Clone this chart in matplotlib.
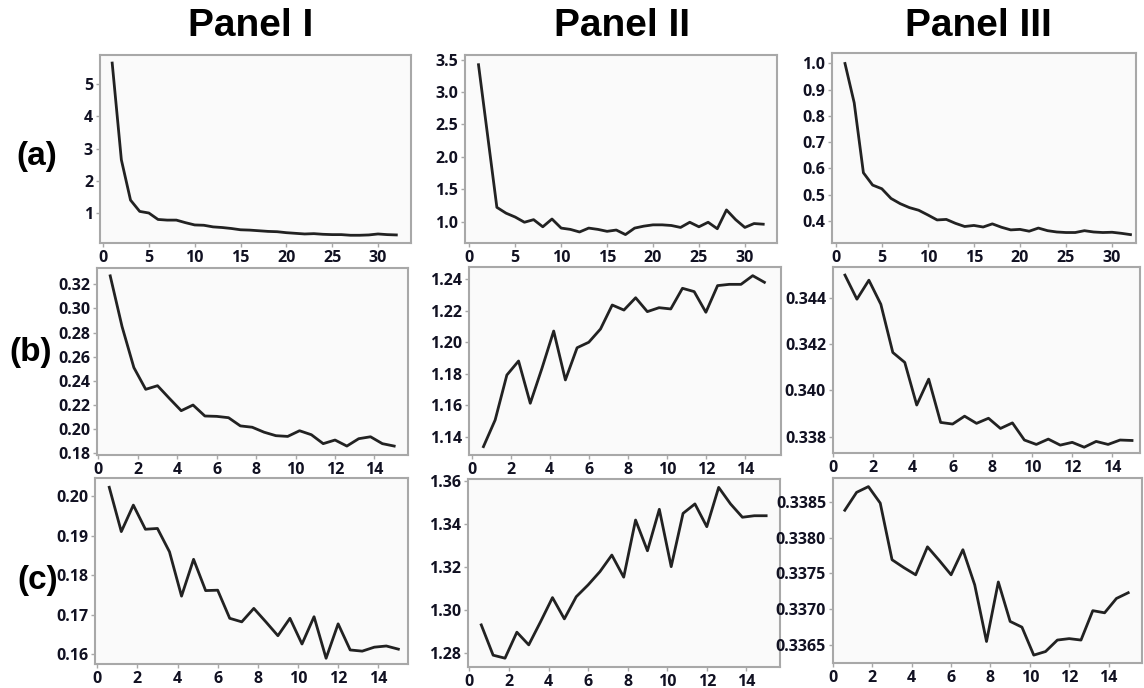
import matplotlib.pyplot as plt
from matplotlib.ticker import FormatStrFormatter

W, H = 1144, 688

# ---- data ----
epochs = list(range(1, 33))
steps = [0.6, 1.2, 1.8, 2.4, 3.0, 3.6, 4.2, 4.8, 5.4, 6.0, 6.6, 7.2, 7.8,
         8.4, 9.0, 9.6, 10.2, 10.8, 11.4, 12.0, 12.6, 13.2, 13.8, 14.4, 15.0]

a1 = [5.65, 2.65, 1.4, 1.05, 1.0, 0.8, 0.78, 0.78, 0.7, 0.63, 0.62, 0.57,
      0.55, 0.52, 0.48, 0.47, 0.45, 0.43, 0.42, 0.39, 0.37, 0.35, 0.36, 0.34,
      0.33, 0.33, 0.31, 0.31, 0.32, 0.35, 0.33, 0.32]
a2 = [3.42, 2.32, 1.22, 1.13, 1.07, 0.99, 1.03, 0.92, 1.04, 0.9, 0.88, 0.84,
      0.9, 0.88, 0.85, 0.87, 0.8, 0.9, 0.93, 0.95, 0.95, 0.94, 0.91, 0.99,
      0.92, 0.99, 0.89, 1.18, 1.03, 0.91, 0.97, 0.96]
a3 = [1.0, 0.85, 0.583, 0.536, 0.522, 0.485, 0.465, 0.45, 0.44, 0.422, 0.403,
      0.405, 0.39, 0.378, 0.382, 0.376, 0.388, 0.375, 0.365, 0.367, 0.36,
      0.372, 0.362, 0.357, 0.355, 0.355, 0.362, 0.357, 0.355, 0.356, 0.352, 0.347]

b1 = [0.327, 0.285, 0.251, 0.233, 0.236, 0.2255, 0.2153, 0.22, 0.2109, 0.2106,
      0.2095, 0.2027, 0.2016, 0.1975, 0.1946, 0.194, 0.1987, 0.1954, 0.188,
      0.191, 0.186, 0.1921, 0.1937, 0.188, 0.186]
b2 = [1.1337, 1.1506, 1.1791, 1.188, 1.1612, 1.1834, 1.207, 1.176, 1.1964,
      1.1999, 1.2083, 1.2235, 1.2203, 1.2281, 1.2193, 1.2218, 1.221, 1.2341,
      1.232, 1.2189, 1.2358, 1.2366, 1.2366, 1.2421, 1.2379]
b3 = [0.34498, 0.34394, 0.34476, 0.34372, 0.34164, 0.34121, 0.33937, 0.34049,
      0.33862, 0.33855, 0.33889, 0.33858, 0.3388, 0.33836, 0.3386, 0.33786,
      0.33767, 0.3379, 0.33764, 0.33776, 0.33755, 0.3378, 0.33767, 0.33786, 0.33784]

c1 = [0.2022, 0.191, 0.1977, 0.1916, 0.1918, 0.1859, 0.1747, 0.184, 0.1761,
      0.1762, 0.1691, 0.1682, 0.1716, 0.1682, 0.1647, 0.1691, 0.1626, 0.1695,
      0.159, 0.1677, 0.1611, 0.1608, 0.1618, 0.1621, 0.1613]
c2 = [1.2929, 1.2788, 1.2774, 1.2895, 1.2836, 1.2944, 1.3056, 1.2957, 1.306,
      1.3115, 1.3177, 1.3254, 1.3151, 1.3417, 1.3274, 1.3467, 1.32, 1.3448,
      1.3492, 1.3386, 1.3569, 1.3492, 1.343, 1.3437, 1.3437]
c3 = [0.33838, 0.33863, 0.33871, 0.33848, 0.33769, 0.33758, 0.33748, 0.33787,
      0.33768, 0.33748, 0.33783, 0.33734, 0.33655, 0.33738, 0.33683, 0.33675,
      0.33636, 0.33641, 0.33657, 0.33659, 0.33657, 0.33698, 0.33695, 0.33715, 0.33723]

col_titles = ['Panel I', 'Panel II', 'Panel III']
row_labels = ['(a)', '(b)', '(c)']


def box(l, t, r, b):
    return [l / W, 1 - b / H, (r - l) / W, (b - t) / H]


# (pixel box, x, y, xlim, ylim, xticks, yticks, y format)
panels = [
    ((100, 55, 411, 243), epochs, a1, (-0.33, 33.6), (0.07, 5.9),
     range(0, 31, 5), [1, 2, 3, 4, 5], '%d'),
    ((465, 55, 777, 243), epochs, a2, (-0.47, 33.5), (0.67, 3.57),
     range(0, 31, 5), [1.0, 1.5, 2.0, 2.5, 3.0, 3.5], '%.1f'),
    ((832, 53, 1136, 243), epochs, a3, (-0.41, 32.6), (0.315, 1.04),
     range(0, 31, 5), [0.4, 0.5, 0.6, 0.7, 0.8, 0.9, 1.0], '%.1f'),
    ((97, 268, 408, 455), steps, b1, (-0.07, 15.7), (0.1786, 0.3335),
     range(0, 15, 2), [0.18, 0.20, 0.22, 0.24, 0.26, 0.28, 0.30, 0.32], '%.2f'),
    ((469, 267, 781, 455), steps, b2, (-0.14, 15.85), (1.1284, 1.2476),
     range(0, 15, 2), [1.14, 1.16, 1.18, 1.20, 1.22, 1.24], '%.2f'),
    ((833, 267, 1140, 453), steps, b3, (0, 15.4), (0.3373, 0.34533),
     range(0, 15, 2), [0.338, 0.340, 0.342, 0.344], '%.3f'),
    ((95, 478, 408, 664), steps, c1, (-0.11, 15.48), (0.15755, 0.20455),
     range(0, 15, 2), [0.16, 0.17, 0.18, 0.19, 0.20], '%.2f'),
    ((468, 479, 780, 667), steps, c2, (-0.07, 15.7), (1.2733, 1.3608),
     range(0, 15, 2), [1.28, 1.30, 1.32, 1.34, 1.36], '%.2f'),
    ((833, 478, 1142, 663), steps, c3, (0, 15.7), (0.33625, 0.33883),
     range(0, 15, 2), [0.3365, 0.3370, 0.3375, 0.3380, 0.3385], '%.4f'),
]

fig = plt.figure(figsize=(W / 100, H / 100), dpi=100)

for px, x, y, xl, yl, xt, yt, fmt in panels:
    ax = fig.add_axes(box(*px))
    ax.set_facecolor('#fafafa')
    ax.plot(x, y, color='#222222', lw=2)
    ax.set_xlim(*xl)
    ax.set_ylim(*yl)
    ax.set_xticks(list(xt))
    ax.set_yticks(yt)
    ax.yaxis.set_major_formatter(FormatStrFormatter(fmt))
    for s in ax.spines.values():
        s.set_color('#a8a8a8')
        s.set_linewidth(1.5)
    ax.tick_params(colors='#a8a8a8', length=3, width=1, pad=2,
                   labelcolor='#111122')
    for lab in ax.get_xticklabels() + ax.get_yticklabels():
        lab.set_family('Open Sans')
        lab.set_fontweight('bold')
        lab.set_fontsize(11.5)

for t, xc in zip(col_titles, [251, 622, 978]):
    fig.text(xc / W, 1 - 36 / H, t, ha='center', va='baseline',
             fontsize=28, fontweight='bold', family='Liberation Sans')

for t, (xc, yc) in zip(row_labels, [(37, 157), (31, 352), (38, 581)]):
    fig.text(xc / W, 1 - yc / H, t, ha='center', va='center',
             fontsize=24, fontweight='bold', family='Liberation Sans')

fig.savefig('out.png', dpi=100, facecolor='white')
